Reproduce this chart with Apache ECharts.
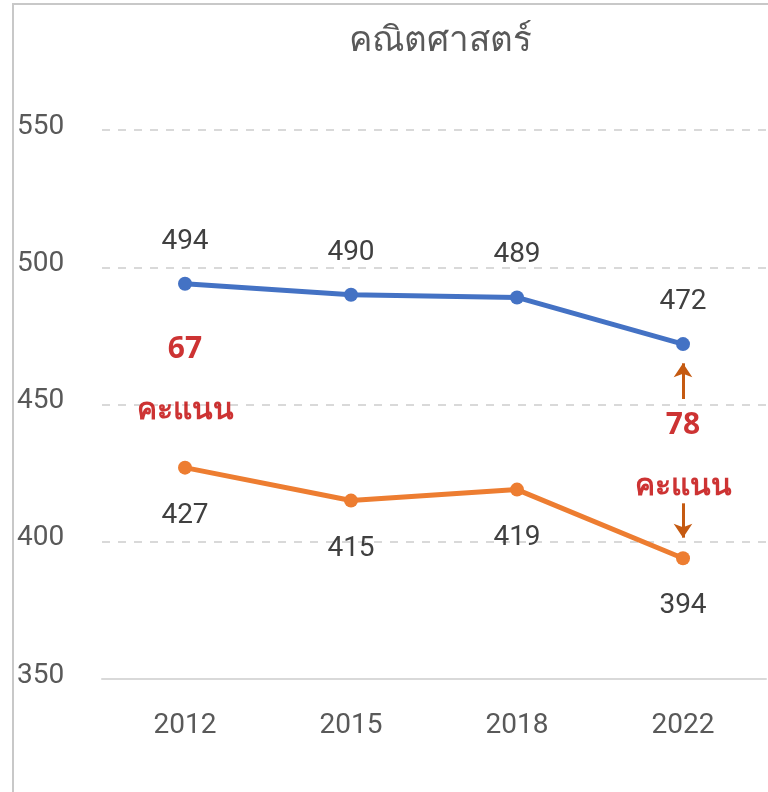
<!DOCTYPE html>
<html>
<head>
<meta charset="utf-8">
<script src="https://cdn.jsdelivr.net/npm/echarts@6/dist/echarts.min.js"></script>
<style>
  html, body { margin: 0; padding: 0; background: #fff; }
  #wrap { position: relative; width: 768px; height: 792px; overflow: hidden; }
  #main { width: 768px; height: 792px; }
  #frame { position: absolute; left: 12px; top: 3px; right: -4px; bottom: -4px;
           border-left: 2px solid #c8c8c8; border-top: 2px solid #c8c8c8; pointer-events: none; }
</style>
</head>
<body>
<div id="wrap">
  <div id="main"></div>
  <div id="frame"></div>
</div>
<script>
// chart data
var years = ['2012', '2015', '2018', '2022'];
var oecdAvg = [494, 490, 489, 472];
var thailand = [427, 415, 419, 394];
var yTicks = [350, 400, 450, 500, 550];

// annotation text (category index, value, text)
var noteCats = [0, 0, 3, 3];
var noteVals = [470, 448, 442.5, 420];
var noteTexts = ['67', 'คะแนน', '78', 'คะแนน'];
// arrows between the 2022 points
var arrowUp = [452, 465];
var arrowDown = [414, 401.5];

var numFont = 'Roboto, "Noto Sans", sans-serif';
var gray = '#595959';

var chart = echarts.init(document.getElementById('main'));

var option = {
  animation: false,
  title: {
    text: 'คณิตศาสตร์',
    left: 435,
    textAlign: 'center',
    top: 19,
    textStyle: { fontSize: 35, fontWeight: 'normal', color: gray, fontFamily: '"Noto Sans", sans-serif' }
  },
  grid: { left: 102, right: 2, top: 130, bottom: 113 },
  xAxis: {
    type: 'category',
    data: years,
    boundaryGap: true,
    axisLine: { show: true, lineStyle: { color: '#d9d9d9', width: 2 } },
    axisTick: { show: false },
    axisLabel: { color: gray, fontSize: 28, fontFamily: numFont, margin: 33 }
  },
  yAxis: {
    type: 'value',
    min: yTicks[0],
    max: yTicks[yTicks.length - 1],
    interval: 50,
    axisLine: { show: false },
    axisTick: { show: false },
    axisLabel: {
      color: gray, fontSize: 28, fontFamily: numFont,
      align: 'left', margin: 85, verticalAlign: 'bottom', lineHeight: 7
    },
    splitLine: { lineStyle: { color: '#d9d9d9', width: 2, type: [8, 8] } }
  },
  series: [
    {
      name: 'OECD',
      type: 'line',
      data: oecdAvg,
      symbol: 'circle',
      symbolSize: 14,
      lineStyle: { color: '#4472C4', width: 5 },
      itemStyle: { color: '#4472C4' },
      label: {
        show: true, position: 'top', distance: 21,
        color: '#404040', fontSize: 28, fontFamily: numFont
      }
    },
    {
      name: 'Thailand',
      type: 'line',
      data: thailand,
      symbol: 'circle',
      symbolSize: 14,
      lineStyle: { color: '#ED7D31', width: 5 },
      itemStyle: { color: '#ED7D31' },
      label: {
        show: true, position: 'bottom', distance: 27,
        color: '#404040', fontSize: 28, fontFamily: numFont
      },
      markLine: {
        silent: true,
        symbol: ['none', 'arrow'],
        symbolSize: [14, 14],
        label: { show: false },
        lineStyle: { color: '#C55A11', width: 3, type: 'solid' },
        data: [
          [{ coord: [3, arrowUp[0]] }, { coord: [3, arrowUp[1]] }],
          [{ coord: [3, arrowDown[0]] }, { coord: [3, arrowDown[1]] }]
        ]
      }
    },
    {
      name: 'notes',
      type: 'scatter',
      symbolSize: 0,
      silent: true,
      data: noteCats.map(function (c, i) { return [c, noteVals[i], noteTexts[i]]; }),
      label: {
        show: true,
        position: 'inside',
        formatter: function (p) { return p.data[2]; },
        color: '#C00000',
        fontSize: 30,
        fontWeight: 'bold',
        fontFamily: '"Noto Sans", Roboto, sans-serif'
      }
    }
  ]
};

chart.setOption(option);
</script>
</body>
</html>
